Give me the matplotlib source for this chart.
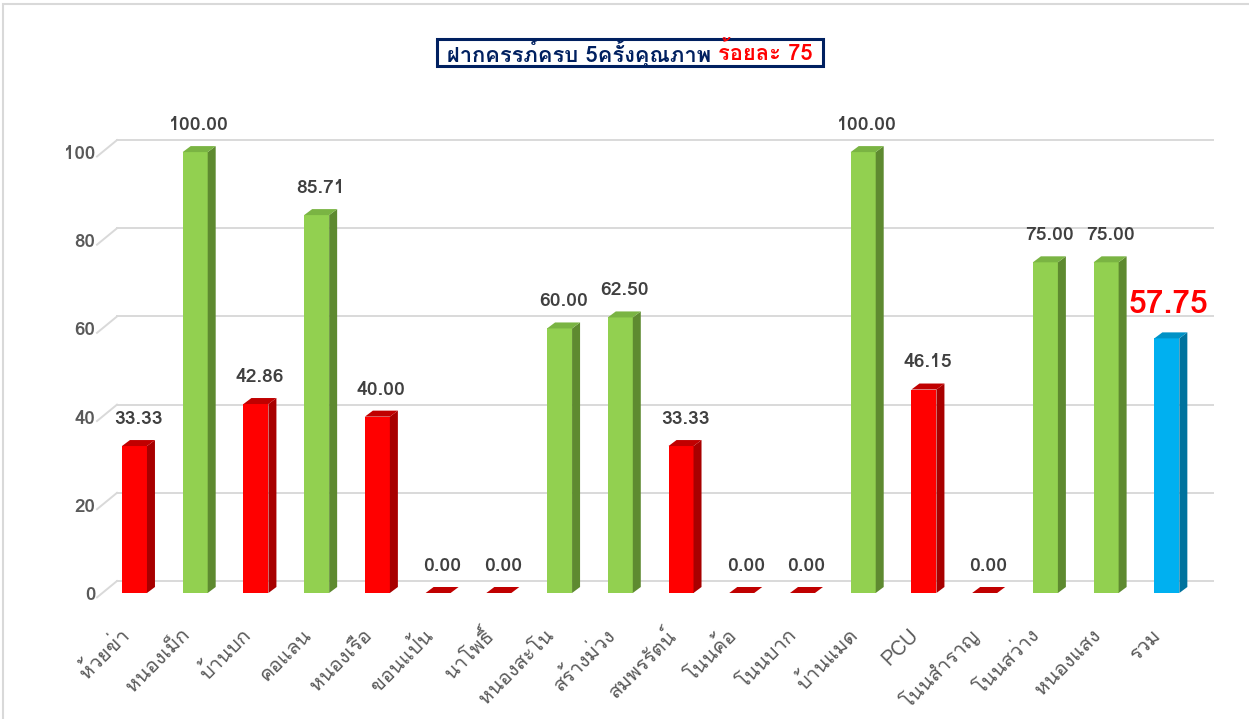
import matplotlib
matplotlib.use("Agg")
import matplotlib.pyplot as plt
import matplotlib.transforms as mtransforms
from matplotlib import font_manager
from matplotlib.ft2font import FT2Font
from matplotlib.patches import Polygon, Rectangle

# data
categories = ["ห้วยข่า", "หนองเม็ก", "บ้านบก", "คอแลน", "หนองเรือ", "ขอนแป้น",
              "นาโพธิ์", "หนองสะโน", "สร้างม่วง", "สมพรรัตน์", "โนนค้อ", "โนนบาก",
              "บ้านแมด", "PCU", "โนนสำราญ", "โนนสว่าง", "หนองแสง", "รวม"]
values = [33.33, 100.00, 42.86, 85.71, 40.00, 0.00, 0.00, 60.00, 62.50, 33.33,
          0.00, 0.00, 100.00, 46.15, 0.00, 75.00, 75.00, 57.75]
y_ticks = [0, 20, 40, 60, 80, 100]
title_main = "ฝากครรภ์ครบ 5ครั้งคุณภาพ "
title_target = "ร้อยละ 75"


def thai_families():
    found = []
    for entry in font_manager.fontManager.ttflist:
        try:
            if 0x0E01 in FT2Font(entry.fname).get_charmap() and entry.name not in found:
                found.append(entry.name)
        except Exception:
            continue
    return found


fams = thai_families()
plt.rcParams["font.family"] = fams + ["DejaVu Sans"]

PALETTE = {
    "low": ("#FF0000", "#A80000", "#C00000"),
    "ok": ("#92D050", "#5E8A30", "#7AB443"),
    "total": ("#00B0F0", "#00739E", "#0092C6"),
}

fig = plt.figure(figsize=(12.49, 7.19), dpi=100)
fig.patches.append(Rectangle((3 / 1249, -0.01), 1.1, 1 - 4 / 719 + 0.01,
                             transform=fig.transFigure, fill=False,
                             edgecolor="#D9D9D9", linewidth=1.5))
ax = fig.add_axes([97 / 1249, (719 - 593) / 719, 1116 / 1249, 485 / 719])
ax.set_xlim(-0.617, len(values) - 1 + 0.76)
ax.set_ylim(0, 110)
for s in ax.spines.values():
    s.set_visible(False)

px_x = 1 / 60.74      # data units per pixel, x
px_y = 1 / 4.41       # data units per pixel, y
width = 25 * px_x
dx, dy = 8 * px_x, 6 * px_y
wall_dx, wall_dy = 20 * px_x, 12 * px_y
x0 = ax.get_xlim()[0]
x1 = ax.get_xlim()[1]

# back-wall gridlines
for t in y_ticks:
    ax.plot([x0 + wall_dx, x1], [t + wall_dy, t + wall_dy], color="#D9D9D9",
            lw=1.4, zorder=0, clip_on=False)
    ax.plot([x0, x0 + wall_dx], [t - 1.0, t + wall_dy], color="#D9D9D9",
            lw=1.4, zorder=0, clip_on=False)

xs = list(range(len(values)))
for i, (x, v) in enumerate(zip(xs, values)):
    if i == len(values) - 1:
        face, side, top = PALETTE["total"]
    elif v > 50:
        face, side, top = PALETTE["ok"]
    else:
        face, side, top = PALETTE["low"]
    l, r = x - width / 2, x + width / 2
    if v > 0:
        ax.bar(x, v, width=width, color=face, zorder=3)
        ax.add_patch(Polygon([(r, 0), (r + dx, dy), (r + dx, v + dy), (r, v)],
                             closed=True, facecolor=side, edgecolor="none", zorder=3))
        ax.add_patch(Polygon([(l, v), (l + dx, v + dy), (r + dx, v + dy), (r, v)],
                             closed=True, facecolor=top, edgecolor="none", zorder=3))
    else:
        ax.add_patch(Polygon([(l, v), (l + dx, v + dy), (r + dx, v + dy), (r, v)],
                             closed=True, facecolor="#C00000", edgecolor="none",
                             zorder=3, clip_on=False))
    if i == len(values) - 1:
        ax.annotate(f"{v:.2f}", (x + dx / 2, v), xytext=(-2, 14),
                    textcoords="offset points", ha="center", va="bottom",
                    fontsize=23, fontweight="bold", color="#FF0000")
    else:
        ax.annotate(f"{v:.2f}", (x + dx / 2, v), xytext=(0, 13),
                    textcoords="offset points", ha="center", va="bottom",
                    fontsize=14, fontweight="bold", color="#404040")

ax.set_yticks(y_ticks)
ax.set_yticklabels([str(t) for t in y_ticks], fontsize=13.5, fontweight="bold",
                   color="#595959")
ax.set_xticks(xs)
ax.set_xticklabels(categories, rotation=45, ha="right", va="center",
                   rotation_mode="anchor", fontsize=14.5, color="#595959")
ax.tick_params(axis="both", length=0)
ax.tick_params(axis="x", pad=26)
ax.tick_params(axis="y", pad=1)
shift = mtransforms.ScaledTranslation(-6 / 72, -2 / 72, fig.dpi_scale_trans)
for lab in ax.get_xticklabels():
    lab.set_transform(lab.get_transform() + shift)

# two-colour boxed title
t1 = fig.text(0, 0, title_main, fontsize=15.8, fontweight="bold", color="#002060",
              va="center", ha="left")
t2 = fig.text(0, 0, title_target, fontsize=15.8, fontweight="bold", color="#FF0000",
              va="center", ha="left")
fig.canvas.draw()
r = fig.canvas.get_renderer()
w1 = t1.get_window_extent(r).width
w2 = t2.get_window_extent(r).width
cx, cy = 630, 719 - 53
start = cx - (w1 + w2) / 2
t1.set_position((start / 1249, cy / 719))
t2.set_position(((start + w1) / 1249, cy / 719))
fig.patches.append(Rectangle((437 / 1249, (719 - 66) / 719), 386 / 1249, 27 / 719,
                             transform=fig.transFigure, fill=False,
                             edgecolor="#002060", linewidth=2.2))

fig.savefig("out.png", dpi=100)
